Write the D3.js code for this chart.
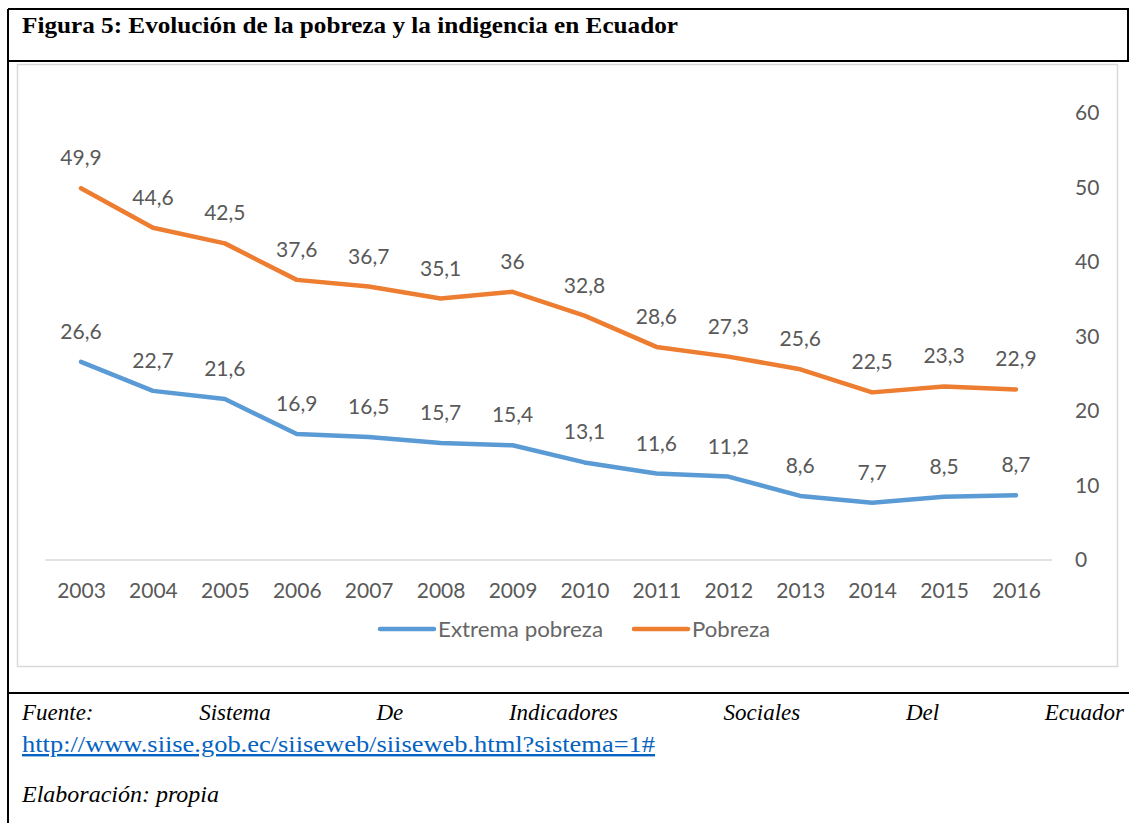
<!DOCTYPE html>
<html>
<head>
<meta charset="utf-8">
<script src="https://cdn.jsdelivr.net/npm/d3@7"></script>
<style>
  body { margin: 0; background: #fff; }
  svg text { font-family: Lato, "Open Sans", sans-serif; }
  .serif { font-family: "Liberation Serif", "DejaVu Serif", serif; }
</style>
</head>
<body>
<div id="chart"></div>
<script>
// data
var years = ["2003","2004","2005","2006","2007","2008","2009","2010","2011","2012","2013","2014","2015","2016"];
var extrema = [26.6, 22.7, 21.6, 16.9, 16.5, 15.7, 15.4, 13.1, 11.6, 11.2, 8.6, 7.7, 8.5, 8.7];
var pobreza = [49.9, 44.6, 42.5, 37.6, 36.7, 35.1, 36, 32.8, 28.6, 27.3, 25.6, 22.5, 23.3, 22.9];
var yTicks = [0, 10, 20, 30, 40, 50, 60];
var seriesNames = ["Extrema pobreza", "Pobreza"];
var colors = ["#5B9BD5", "#ED7D31"];

var W = 1129, H = 823;
var svg = d3.select('#chart').append('svg')
	.attr('width', W).attr('height', H);

// document frame
var frame = svg.append('g').attr('class', 'frame')
	.style('stroke', '#000').style('stroke-width', 2);
frame.append('line').attr('x1', 8).attr('x2', W).attr('y1', 9).attr('y2', 9);
frame.append('line').attr('x1', 8).attr('x2', 8).attr('y1', 9).attr('y2', H);
frame.append('line').attr('x1', 8).attr('x2', W).attr('y1', 61).attr('y2', 61);
frame.append('line').attr('x1', 8).attr('x2', W).attr('y1', 693).attr('y2', 693);
frame.append('line').attr('x1', 1128).attr('x2', 1128).attr('y1', 9).attr('y2', 61);

svg.append('text').attr('class', 'serif')
	.attr('x', 22).attr('y', 33)
	.attr('textLength', 656).attr('lengthAdjust', 'spacingAndGlyphs')
	.style('font-weight', 'bold').style('font-size', '24px').style('fill', '#000')
	.text('Figura 5: Evolución de la pobreza y la indigencia en Ecuador');

// chart area border
svg.append('rect')
	.attr('x', 17.5).attr('y', 64.5).attr('width', 1100).attr('height', 602)
	.style('fill', 'none').style('stroke', '#d9d9d9').style('stroke-width', 1.5);

// scales
var x = d3.scalePoint().domain(years).range([81, 1016]);
var y = d3.scaleLinear().domain([0, 60]).range([560, 113]);

// baseline
svg.append('line')
	.attr('x1', 45).attr('x2', 1052).attr('y1', y(0)).attr('y2', y(0))
	.style('stroke', '#d9d9d9').style('stroke-width', 1.5);

// right axis labels
var yAxis = svg.append('g').attr('transform', 'translate(1075,0)')
	.call(d3.axisRight(y).tickValues(yTicks).tickSize(0).tickPadding(0));
yAxis.select('.domain').remove();
yAxis.selectAll('text').style('font-size', '21px').style('fill', '#595959')
	.style('font-family', 'Lato, sans-serif');

// x axis labels
var xAxis = svg.append('g').attr('transform', 'translate(0,' + (y(0) + 23) + ')')
	.call(d3.axisBottom(x).tickSize(0).tickPadding(0));
xAxis.select('.domain').remove();
xAxis.selectAll('text').style('font-size', '21px').style('fill', '#595959')
	.style('font-family', 'Lato, sans-serif');

var line = d3.line()
	.x(function(d, i){ return x(years[i]); })
	.y(function(d){ return y(d); });

[extrema, pobreza].forEach(function(vals, k){
	svg.append('path')
		.datum(vals)
		.attr('d', line)
		.style('fill', 'none')
		.style('stroke', colors[k])
		.style('stroke-width', 4.5)
		.style('stroke-linejoin', 'round')
		.style('stroke-linecap', 'round');

	svg.append('g').selectAll('text')
		.data(vals).enter().append('text')
		.attr('x', function(d, i){ return x(years[i]); })
		.attr('y', function(d){ return y(d) - 23; })
		.attr('text-anchor', 'middle')
		.style('font-size', '21px')
		.style('fill', '#595959')
		.text(function(d){ return String(d).replace('.', ','); });
});

// legend
var legend = svg.append('g').attr('transform', 'translate(0,629)');
var legX = [380, 634];
var legW = [165, 78];
seriesNames.forEach(function(name, k){
	legend.append('line')
		.attr('x1', legX[k]).attr('x2', legX[k] + 54)
		.style('stroke', colors[k]).style('stroke-width', 4.5).style('stroke-linecap', 'round');
	legend.append('text')
		.attr('x', legX[k] + 58).attr('y', 8)
		.attr('textLength', legW[k]).attr('lengthAdjust', 'spacingAndGlyphs')
		.style('font-size', '21px').style('fill', '#666')
		.text(name);
});

// footer, first line justified
var fuenteWords = ["Fuente:", "Sistema", "De", "Indicadores", "Sociales", "Del", "Ecuador"];
var fuente = svg.append('g');
var wordEls = fuente.selectAll('text')
	.data(fuenteWords).enter().append('text')
	.attr('class', 'serif')
	.attr('y', 720)
	.style('font-style', 'italic').style('font-size', '23px').style('fill', '#000')
	.text(function(d){ return d; });
var widths = [];
wordEls.each(function(){ widths.push(this.getComputedTextLength()); });
var gap = (1124 - 22 - d3.sum(widths)) / (fuenteWords.length - 1);
var cx = 22;
wordEls.attr('x', function(d, i){ var p = cx; cx += widths[i] + gap; return p; });

svg.append('text').attr('class', 'serif')
	.attr('x', 22).attr('y', 752)
	.attr('textLength', 633).attr('lengthAdjust', 'spacingAndGlyphs')
	.style('font-size', '24px').style('fill', '#0563C1')
	.style('text-decoration', 'underline')
	.text('http://www.siise.gob.ec/siiseweb/siiseweb.html?sistema=1#');

svg.append('text').attr('class', 'serif')
	.attr('x', 22).attr('y', 802)
	.attr('textLength', 197).attr('lengthAdjust', 'spacingAndGlyphs')
	.style('font-style', 'italic').style('font-size', '23px').style('fill', '#000')
	.text('Elaboración: propia');
</script>
</body>
</html>
